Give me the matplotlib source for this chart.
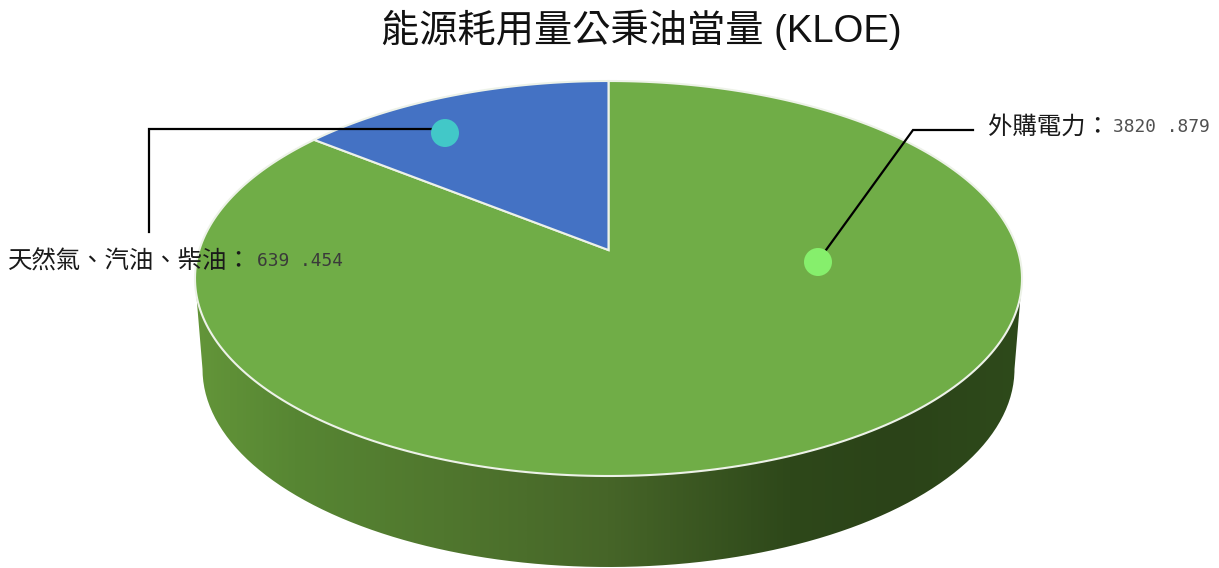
import numpy as np
import matplotlib
matplotlib.use('Agg')
import matplotlib.pyplot as plt
from matplotlib.colors import LinearSegmentedColormap
from matplotlib.patches import Circle, Polygon, PathPatch
from matplotlib.path import Path

title = '能源耗用量公秉油當量 (KLOE)'
names = ['外購電力', '天然氣、汽油、柴油']
values = [3820.879, 639.454]
value_labels = ['3820 .879', '639 .454']
slice_colors = ['#70AD47', '#4472C4']
dot_colors = ['#86EF6C', '#42C8C8']

# pie drawn in pixels of the reference
cx, cy, rx, ry = 608.5, 278.5, 413.5, 197.5
tilt = 0.144  # perspective: moves the apex up from the ellipse centre
bottom_cy, bottom_rx, bottom_ry = 369, 406, 198

side_x = [0, 0.12, 0.3, 0.5, 0.72, 0.85, 1]
side_c = ['#639539', '#578633', '#50772E', '#466528', '#2E481A', '#2B4318', '#2E4A1B']

cjk = ['Noto Sans CJK TC', 'DejaVu Sans']


def project(theta):
    # clockwise from 12 o'clock on a flat disc, to picture pixels
    u, v = np.sin(theta), np.cos(theta)
    d = 1 + tilt * v
    return cx + rx * u * np.sqrt(1 - tilt ** 2) / d, cy - ry * (v + tilt) / d


fig = plt.figure(figsize=(12.19, 5.68), dpi=100)
ax = fig.add_axes([0, 0, 1, 1])

# side wall with its horizontal gradient
t = np.linspace(np.pi, 0, 200)
wall = np.column_stack([cx + bottom_rx * np.cos(t), bottom_cy + bottom_ry * np.sin(t)])
wall = np.vstack([[cx - rx, cy], wall, [cx + rx, cy]])
cmap = LinearSegmentedColormap.from_list('side', list(zip(side_x, side_c)))
img = ax.imshow(np.linspace(0, 1, 512).reshape(1, -1), cmap=cmap, aspect='auto',
                extent=(cx - rx, cx + rx, 568, cy), zorder=1)
clip = PathPatch(Path(wall), transform=ax.transData, fc='none', ec='none')
ax.add_patch(clip)
img.set_clip_path(clip)
ax.set_xlim(0, 1219)
ax.set_ylim(568, 0)
ax.axis('off')

# top face slices
edges = np.cumsum([0] + values) / sum(values) * 2 * np.pi
for i in range(len(values)):
    th = np.linspace(edges[i], edges[i + 1], 300)
    xs, ys = project(th)
    pts = np.column_stack([np.r_[cx, xs], np.r_[cy - ry * tilt, ys]])
    ax.add_patch(Polygon(pts, closed=True, fc=slice_colors[i], ec='#EDF2E8', lw=1.5, zorder=2))

# leader lines and dots
ax.plot([826, 913, 973], [250, 130, 130], color='black', lw=1.6, zorder=3, solid_joinstyle='miter')
ax.plot([436, 149, 149], [129, 129, 232], color='black', lw=1.6, zorder=3, solid_joinstyle='miter')
ax.add_patch(Circle((818, 262), 14, fc=dot_colors[0], ec='none', zorder=4))
ax.add_patch(Circle((445, 133), 14, fc=dot_colors[1], ec='none', zorder=4))

ax.text(641, 30, title, family=['Liberation Sans', 'Noto Sans CJK TC'], fontsize=27.5,
        color='#111111', ha='center', va='center', zorder=5)

ax.text(988, 127, names[0] + '：', family=cjk, fontsize=17.6, color='#1a1a1a',
        ha='left', va='center', zorder=5)
ax.text(1113, 127, value_labels[0], family='DejaVu Sans Mono', fontsize=12.9, color='#505050',
        ha='left', va='center', zorder=5)
ax.text(8, 262, names[1] + '：', family=cjk, fontsize=17.6, color='#1a1a1a',
        ha='left', va='center', zorder=5)
ax.text(257, 261, value_labels[1], family='DejaVu Sans Mono', fontsize=12.9, color='#3a3a3a',
        ha='left', va='center', zorder=5)

fig.savefig('out.png', dpi=100)
